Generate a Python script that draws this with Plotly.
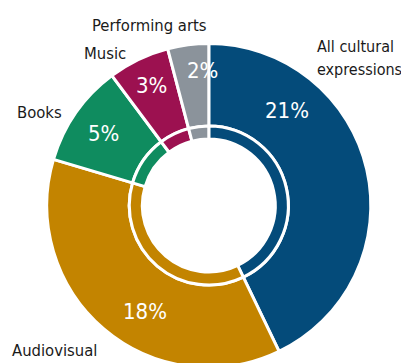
import plotly.graph_objects as go

# Share of each cultural domain (%).
categories = ["All cultural expressions", "Audiovisual", "Books", "Music",
              "Performing arts"]
values = [21, 18, 5, 3, 2]
colors = ["#044b7a", "#c38400", "#0f8c5f", "#9c1150", "#8b939b"]

W, H = 409, 363
OFF = 8  # the page body adds an 8px margin
FONT = "DejaVu Sans Condensed, Liberation Sans Narrow, sans-serif"


def px_x(x):
    return (x - OFF) / W


def px_y(y):
    return 1 - (y - OFF) / H


fig = go.Figure()

# Outer ring, centre (209, 205.5).
cx, cy, r_out, r_in = 208.8, 205.5, 162, 79.5
fig.add_trace(go.Pie(
    labels=categories, values=values, sort=False, direction='clockwise',
    hole=0.491, textinfo='none', hoverinfo='label+value',
    marker=dict(colors=colors, line=dict(color='white', width=3)),
    domain=dict(x=[px_x(cx - r_out), px_x(cx + r_out)],
                y=[px_y(cy + r_out), px_y(cy - r_out)]),
    showlegend=False,
))

# Thin inner ring.
fig.add_trace(go.Pie(
    labels=categories, values=values, sort=False, direction='clockwise',
    hole=0.836, textinfo='none', hoverinfo='label+value',
    marker=dict(colors=colors, line=dict(color='white', width=3)),
    domain=dict(x=[px_x(cx - r_in), px_x(cx + r_in)],
                y=[px_y(cy + r_in), px_y(cy - r_in)]),
    showlegend=False,
))

# Category names, outside the ring.
names = ["All cultural", "expressions", "Audiovisual", "Books", "Music",
         "Performing arts"]
name_pos = [(315, 47), (315, 69), (10, 350), (15, 112), (82, 54), (90, 25)]
name_size = [16, 16, 16.5, 16.5, 16.5, 16.5]
for txt, (x, y), sz in zip(names, name_pos, name_size):
    fig.add_annotation(text=txt, x=px_x(x), y=px_y(y), xref='paper',
                       yref='paper', xanchor='left', yanchor='middle',
                       showarrow=False,
                       font=dict(family=FONT, size=sz, color='#1a1a1a'))

# Percentages, on the ring.
pct_pos = [(287, 111), (145, 311), (103, 134), (151, 86), (202, 71)]
for v, (x, y) in zip(values, pct_pos):
    fig.add_annotation(text=f"{v}%", x=px_x(x), y=px_y(y), xref='paper',
                       yref='paper', xanchor='center', yanchor='middle',
                       showarrow=False,
                       font=dict(family=FONT, size=22, color='white'))

fig.update_layout(width=W, height=H, margin=dict(l=0, r=0, t=0, b=0),
                  paper_bgcolor='white', plot_bgcolor='white')
fig.write_html("out.html")
